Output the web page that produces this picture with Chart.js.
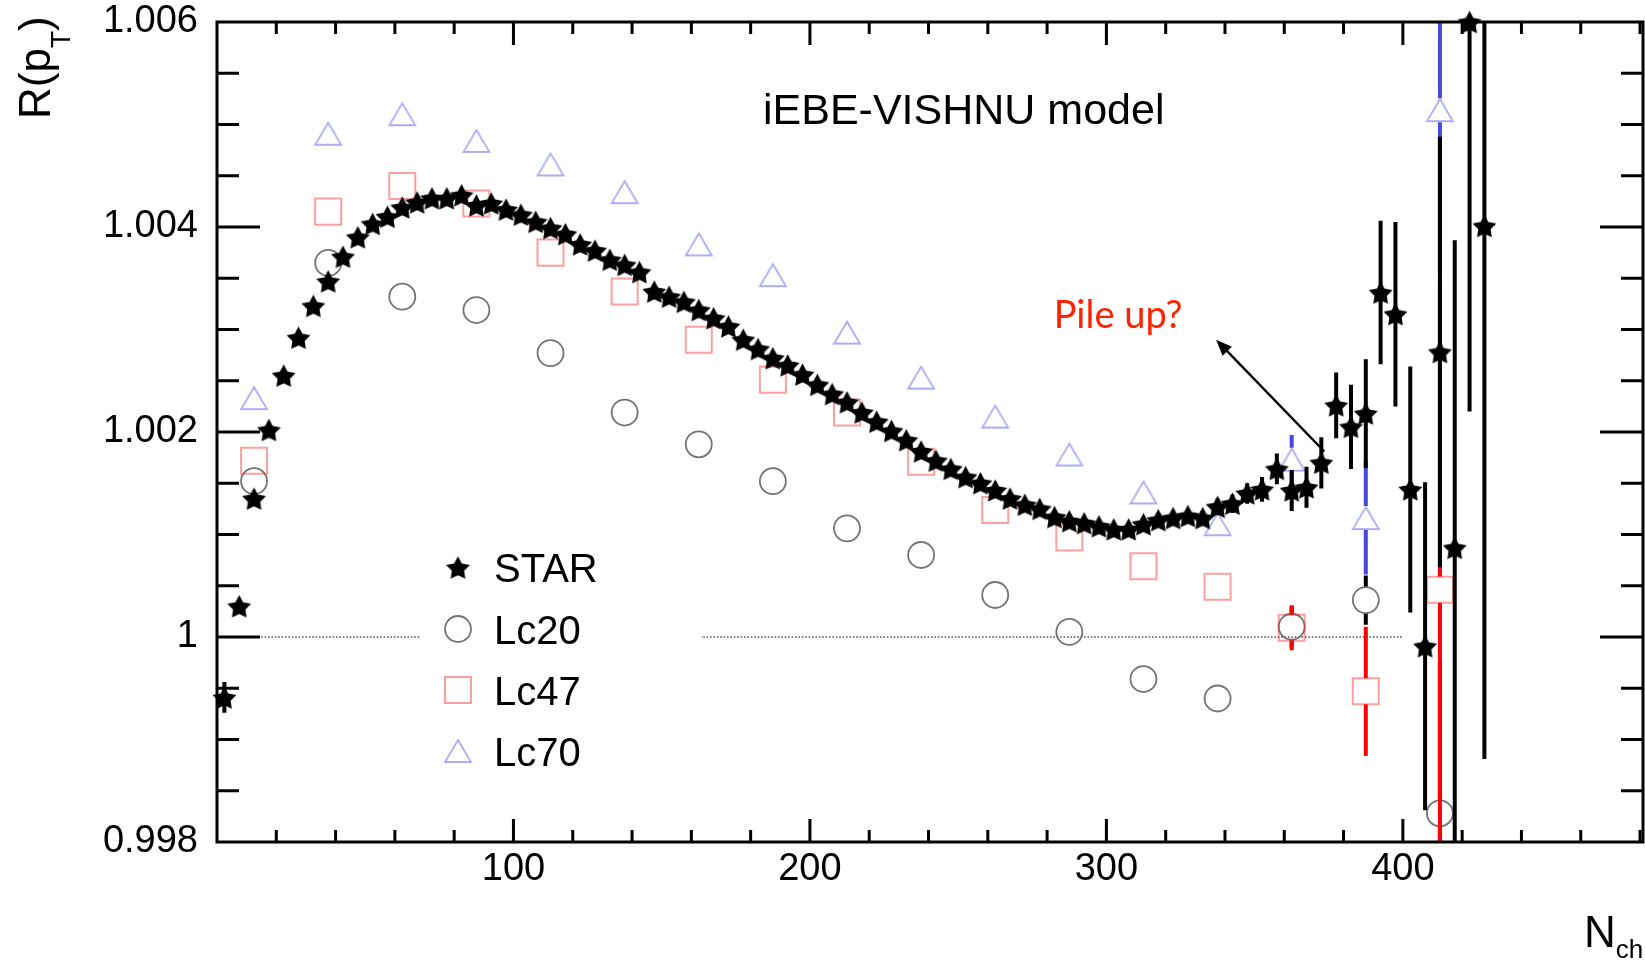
<!DOCTYPE html>
<html>
<head>
<meta charset="utf-8">
<script src="https://cdn.jsdelivr.net/npm/chart.js@4.4.1/dist/chart.umd.min.js"></script>
<style>
  html, body { margin: 0; padding: 0; background: #fff; }
  #wrap { width: 1645px; height: 961px; }
</style>
</head>
<body>
<div id="wrap"><canvas id="c" width="1645" height="961"></canvas></div>
<script>
// ── Data ──────────────────────────────────────────────────────────────────────
const starX = [
  2.5, 7.5, 12.5, 17.5, 22.5, 27.5, 32.5, 37.5, 42.5, 47.5,
  52.5, 57.5, 62.5, 67.5, 72.5, 77.5, 82.5, 87.5, 92.5, 97.5,
  102.5, 107.5, 112.5, 117.5, 122.5, 127.5, 132.5, 137.5, 142.5, 147.5,
  152.5, 157.5, 162.5, 167.5, 172.5, 177.5, 182.5, 187.5, 192.5, 197.5,
  202.5, 207.5, 212.5, 217.5, 222.5, 227.5, 232.5, 237.5, 242.5, 247.5,
  252.5, 257.5, 262.5, 267.5, 272.5, 277.5, 282.5, 287.5, 292.5, 297.5,
  302.5, 307.5, 312.5, 317.5, 322.5, 327.5, 332.5, 337.5, 342.5, 347.5,
  352.5, 357.5, 362.5, 367.5, 372.5, 377.5, 382.5, 387.5, 392.5, 397.5,
  402.5, 407.5, 412.5, 417.5, 422.5, 427.5
];
const starY = [
  0.99941, 1.00030, 1.00135, 1.00202, 1.00255, 1.00292, 1.00323, 1.00347, 1.00371, 1.00390,
  1.00403, 1.00410, 1.00419, 1.00424, 1.00428, 1.00428, 1.00431, 1.00421, 1.00423, 1.00417,
  1.00412, 1.00405, 1.00399, 1.00393, 1.00383, 1.00377, 1.00368, 1.00363, 1.00356, 1.00337,
  1.00332, 1.00327, 1.00319, 1.00311, 1.00303, 1.00290, 1.00281, 1.00272, 1.00265, 1.00256,
  1.00246, 1.00237, 1.00229, 1.00219, 1.00210, 1.00201, 1.00192, 1.00181, 1.00172, 1.00164,
  1.00156, 1.00150, 1.00143, 1.00135, 1.00129, 1.00125, 1.00117, 1.00113, 1.00111, 1.00108,
  1.00105, 1.00105, 1.00110, 1.00114, 1.00116, 1.00118, 1.00116, 1.00127, 1.00130, 1.00140,
  1.00144, 1.00164, 1.00143, 1.00146, 1.00170, 1.00226, 1.00205, 1.00218, 1.00336, 1.00315,
  1.00144, 0.99991, 1.00278, 1.00087, 1.00600, 1.00401
];
const starErr = [
  0.00015, 0.00005, 0.00004, 0.00004, 0.00004, 0.00004, 0.00004, 0.00004, 0.00004, 0.00004,
  0.00004, 0.00004, 0.00004, 0.00004, 0.00004, 0.00004, 0.00004, 0.00004, 0.00004, 0.00004,
  0.00004, 0.00004, 0.00004, 0.00004, 0.00004, 0.00004, 0.00004, 0.00004, 0.00004, 0.00004,
  0.00004, 0.00004, 0.00004, 0.00004, 0.00004, 0.00004, 0.00004, 0.00004, 0.00004, 0.00004,
  0.00004, 0.00004, 0.00004, 0.00004, 0.00004, 0.00004, 0.00004, 0.00004, 0.00004, 0.00004,
  0.00004, 0.00004, 0.00004, 0.00004, 0.00004, 0.00004, 0.00004, 0.00004, 0.00004, 0.00004,
  0.00005, 0.00005, 0.00005, 0.00006, 0.00006, 0.00007, 0.00007, 0.00008, 0.00009, 0.00010,
  0.00012, 0.00015, 0.00020, 0.00020, 0.00025, 0.00032, 0.00041, 0.00053, 0.00070, 0.00090,
  0.00120, 0.00160, 0.00210, 0.00300, 0.00380, 0.00520
];

const modelX = [12.5, 37.5, 62.5, 87.5, 112.5, 137.5, 162.5, 187.5, 212.5,
                237.5, 262.5, 287.5, 312.5, 337.5, 362.5, 387.5, 412.5];
const lc20Y = [1.00152, 1.00365, 1.00332, 1.00319, 1.00277, 1.00219, 1.00188, 1.00152, 1.00106,
               1.00080, 1.00041, 1.00005, 0.99959, 0.99940, 1.00010, 1.00036, 0.99828];
const lc20Err = [0.00003, 0.00003, 0.00003, 0.00003, 0.00003, 0.00003, 0.00003, 0.00003, 0.00003,
                 0.00003, 0.00003, 0.00003, 0.00003, 0.00003, 0.00020, 0.00024, 0.00150];
const lc47Y = [1.00172, 1.00415, 1.00440, 1.00423, 1.00375, 1.00337, 1.00290, 1.00251, 1.00219,
               1.00171, 1.00124, 1.00097, 1.00069, 1.00049, 1.00009, 0.99947, 1.00046];
const lc47Err = [0.00003, 0.00003, 0.00003, 0.00003, 0.00003, 0.00003, 0.00003, 0.00003, 0.00003,
                 0.00003, 0.00003, 0.00003, 0.00003, 0.00003, 0.00022, 0.00063, 0.00300];
const lc70Y = [1.00233, 1.00491, 1.00510, 1.00484, 1.00461, 1.00434, 1.00383, 1.00353, 1.00297,
               1.00253, 1.00215, 1.00178, 1.00141, 1.00110, 1.00173, 1.00116, 1.00514];
const lc70Err = [0.00003, 0.00003, 0.00003, 0.00003, 0.00003, 0.00003, 0.00003, 0.00003, 0.00003,
                 0.00003, 0.00003, 0.00003, 0.00003, 0.00003, 0.00024, 0.00055, 0.00160];

const xMin = 0, xMax = 481;
const yMin = 0.998, yMax = 1.006;
const xMajor = [100, 200, 300, 400];
const yMajor = [0.998, 1, 1.002, 1.004, 1.006];
const unityLine = { value: 1, from: 0, to: 400 };
const pileArrow = { from: [373.5, 1.00181], to: [337, 1.00290] };
const pileText = { text: 'Pile up?', x: 282.2, y: 1.00301 };

// ── Markers (ROOT-like) ──────────────────────────────────────────────────────
const FONT = "'Liberation Sans', Arial, Helvetica, sans-serif";

function starMarker(r) {
  const c = document.createElement('canvas');
  const s = Math.ceil(r * 2 + 2);
  c.width = c.height = s;
  const g = c.getContext('2d');
  g.translate(s / 2, s / 2 + r * 0.1);
  g.beginPath();
  for (let i = 0; i < 10; i++) {
    const rr = i % 2 ? r * 0.52 : r;
    const a = -Math.PI / 2 + i * Math.PI / 5;
    g.lineTo(rr * Math.cos(a), rr * Math.sin(a));
  }
  g.closePath();
  g.fillStyle = '#000';
  g.fill();
  return c;
}

function triMarker(w, h, color, lw) {
  const c = document.createElement('canvas');
  c.width = w + 4; c.height = h + 4;
  const g = c.getContext('2d');
  g.strokeStyle = color; g.lineWidth = lw;
  g.beginPath();
  g.moveTo(c.width / 2, 2);
  g.lineTo(c.width - 2, h + 2);
  g.lineTo(2, h + 2);
  g.closePath();
  g.stroke();
  return c;
}

const starImg = starMarker(12.5);
const triImg = triMarker(26, 22, 'rgba(70,70,235,0.45)', 1.8);

const pts = (xs, ys) => xs.map((x, i) => ({ x, y: ys[i] }));

// ── Plugins ──────────────────────────────────────────────────────────────────
// vertical error bars, drawn just before each dataset's markers, with a gap at the marker
const errorBars = {
  id: 'errorBars',
  beforeDatasetDraw(chart, args) {
    const ds = chart.data.datasets[args.index];
    if (!ds.errors) return;
    const { ctx, chartArea: a, scales: { x, y } } = chart;
    ctx.save();
    ctx.beginPath();
    ctx.rect(a.left, a.top, a.right - a.left, a.bottom - a.top);
    ctx.clip();
    ctx.strokeStyle = ds.barColor;
    ctx.lineWidth = 4;
    ds.data.forEach((p, i) => {
      const e = ds.errors[i];
      const px = x.getPixelForValue(p.x);
      const py = y.getPixelForValue(p.y);
      const top = y.getPixelForValue(p.y + e);
      const bot = y.getPixelForValue(p.y - e);
      const g = ds.barGap;
      ctx.beginPath();
      if (py - g > top) { ctx.moveTo(px, top); ctx.lineTo(px, py - g); }
      if (py + g < bot) { ctx.moveTo(px, py + g); ctx.lineTo(px, bot); }
      ctx.stroke();
    });
    ctx.restore();
  }
};

function legendMarker(ctx, d, cx, cy) {
  const st = d.pointStyle;
  if (typeof st !== 'string') {
    ctx.drawImage(st, cx - st.width / 2, cy - st.height / 2);
    return;
  }
  ctx.strokeStyle = d.pointBorderColor;
  ctx.lineWidth = d.pointBorderWidth;
  ctx.beginPath();
  if (st === 'circle') {
    ctx.arc(cx, cy, d.pointRadius, 0, Math.PI * 2);
  } else {
    const s = d.pointRadius * Math.SQRT1_2;
    ctx.rect(cx - s, cy - s, 2 * s, 2 * s);
  }
  ctx.stroke();
}

const decorations = {
  id: 'decorations',
  beforeDatasetsDraw(chart) {
    const { ctx, scales: { x, y } } = chart;
    const py = y.getPixelForValue(unityLine.value);
    ctx.save();
    ctx.strokeStyle = '#555';
    ctx.lineWidth = 1.6;
    ctx.setLineDash([1.6, 1.8]);
    ctx.beginPath();
    ctx.moveTo(x.getPixelForValue(unityLine.from), py);
    ctx.lineTo(x.getPixelForValue(unityLine.to), py);
    ctx.stroke();
    ctx.restore();
  },
  afterDatasetsDraw(chart) {
    const { ctx, chartArea: a, scales: { x, y } } = chart;
    const ds = chart.data.datasets;

    // legend box
    ctx.save();
    ctx.fillStyle = '#fff';
    ctx.fillRect(421, 526, 280, 262);
    const rowY = [567.5, 629, 690, 751];
    ds.forEach((d, k) => {
      legendMarker(ctx, d, 458, rowY[k]);
      ctx.fillStyle = '#000';
      ctx.font = `40px ${FONT}`;
      ctx.textBaseline = 'alphabetic';
      ctx.fillText(d.label, 494, rowY[k] + 14.5);
    });

    // model label
    ctx.font = `43px ${FONT}`;
    ctx.fillStyle = '#000';
    ctx.fillText('iEBE-VISHNU model', a.left + 546, a.top + 102);

    // pile-up annotation
    const x1 = x.getPixelForValue(pileArrow.from[0]), y1 = y.getPixelForValue(pileArrow.from[1]);
    const x2 = x.getPixelForValue(pileArrow.to[0]), y2 = y.getPixelForValue(pileArrow.to[1]);
    const ang = Math.atan2(y2 - y1, x2 - x1);
    ctx.strokeStyle = '#000';
    ctx.lineWidth = 2.4;
    ctx.beginPath();
    ctx.moveTo(x1, y1);
    ctx.lineTo(x2 - 10 * Math.cos(ang), y2 - 10 * Math.sin(ang));
    ctx.stroke();
    ctx.fillStyle = '#000';
    ctx.beginPath();
    ctx.moveTo(x2, y2);
    ctx.lineTo(x2 - 16 * Math.cos(ang) + 6.5 * Math.sin(ang), y2 - 16 * Math.sin(ang) - 6.5 * Math.cos(ang));
    ctx.lineTo(x2 - 16 * Math.cos(ang) - 6.5 * Math.sin(ang), y2 - 16 * Math.sin(ang) + 6.5 * Math.cos(ang));
    ctx.closePath();
    ctx.fill();

    ctx.fillStyle = '#ff2200';
    ctx.font = "38px Lato, 'Open Sans', sans-serif";
    ctx.fillText(pileText.text, x.getPixelForValue(pileText.x), y.getPixelForValue(pileText.y));
    ctx.restore();
  },
  afterDraw(chart) {
    const { ctx, chartArea: a, scales: { x, y } } = chart;
    ctx.save();
    ctx.strokeStyle = '#000';
    ctx.lineWidth = 3;
    ctx.beginPath();
    // x ticks, inward on bottom and top
    for (let k = 1; xMin + k * 20 < xMax; k++) {
      const v = xMin + k * 20;
      const px = x.getPixelForValue(v);
      const len = v % 100 === 0 ? 23 : 12;
      ctx.moveTo(px, a.bottom); ctx.lineTo(px, a.bottom - len);
      ctx.moveTo(px, a.top); ctx.lineTo(px, a.top + len);
    }
    // y ticks, inward on left and right
    for (let k = 1; k < 16; k++) {
      const v = yMin + k * 0.0005;
      const py = y.getPixelForValue(v);
      const len = k % 4 === 0 ? 43 : 22;
      ctx.moveTo(a.left, py); ctx.lineTo(a.left + len, py);
      ctx.moveTo(a.right, py); ctx.lineTo(a.right - len, py);
    }
    ctx.stroke();
    ctx.strokeRect(a.left, a.top, a.right - a.left, a.bottom - a.top);

    // axis titles
    ctx.fillStyle = '#000';
    ctx.textBaseline = 'alphabetic';
    ctx.font = `44px ${FONT}`;
    ctx.fillText('N', 1584, 947);
    const nW = ctx.measureText('N').width;
    ctx.font = `26px ${FONT}`;
    ctx.fillText('ch', 1584 + nW, 958);

    ctx.translate(50, 119);
    ctx.rotate(-Math.PI / 2);
    ctx.font = `44px ${FONT}`;
    ctx.fillText('R(p', 0, 0);
    let w = ctx.measureText('R(p').width;
    ctx.font = `28px ${FONT}`;
    ctx.fillText('T', w, 20);
    w += ctx.measureText('T').width;
    ctx.font = `44px ${FONT}`;
    ctx.fillText(')', w, 0);
    ctx.restore();
  }
};

// ── Chart ────────────────────────────────────────────────────────────────────
new Chart(document.getElementById('c'), {
  type: 'scatter',
  data: {
    datasets: [
      {
        label: 'STAR', data: pts(starX, starY), errors: starErr,
        barColor: '#000', barGap: 0, order: 0, clip: false,
        pointStyle: starImg, pointRadius: 12, pointBorderWidth: 0,
        pointBorderColor: '#000', pointBackgroundColor: '#000'
      },
      {
        label: 'Lc20', data: pts(modelX, lc20Y), errors: lc20Err,
        barColor: '#000', barGap: 13, order: 3, clip: false,
        pointStyle: 'circle', pointRadius: 13, pointBorderWidth: 1.8,
        pointBorderColor: '#747474', pointBackgroundColor: 'rgba(0,0,0,0)'
      },
      {
        label: 'Lc47', data: pts(modelX, lc47Y), errors: lc47Err,
        barColor: '#ff0000', barGap: 13, order: 2, clip: false,
        pointStyle: 'rect', pointRadius: 18.4, pointBorderWidth: 2,
        pointBorderColor: 'rgba(255,40,40,0.45)', pointBackgroundColor: 'rgba(0,0,0,0)'
      },
      {
        label: 'Lc70', data: pts(modelX, lc70Y), errors: lc70Err,
        barColor: '#4848dc', barGap: 12, order: 1, clip: false,
        pointStyle: triImg, pointRadius: 13, pointBorderWidth: 1.8,
        pointBorderColor: 'rgba(70,70,235,0.45)', pointBackgroundColor: 'rgba(0,0,0,0)'
      }
    ]
  },
  options: {
    responsive: false,
    animation: false,
    devicePixelRatio: 1,
    layout: { autoPadding: false, padding: { top: 22, right: 2, left: 0, bottom: 0 } },
    plugins: { legend: { display: false }, tooltip: { enabled: false } },
    scales: {
      x: {
        type: 'linear', min: xMin, max: xMax,
        grid: { display: false, drawTicks: false },
        border: { display: false },
        ticks: { color: '#000', padding: 9, font: { family: FONT, size: 38, lineHeight: 1 },
                 callback: v => String(v) },
        afterBuildTicks: s => { s.ticks = xMajor.map(v => ({ value: v })); },
        afterFit: s => { s.height = 119; s.paddingLeft = 0; s.paddingRight = 0; }
      },
      y: {
        type: 'linear', min: yMin, max: yMax,
        grid: { display: false, drawTicks: false },
        border: { display: false },
        ticks: { color: '#000', padding: 19, font: { family: FONT, size: 38, lineHeight: 1 },
                 callback: v => String(+v.toFixed(3)) },
        afterBuildTicks: s => { s.ticks = yMajor.map(v => ({ value: v })); },
        afterFit: s => { s.width = 217; s.paddingTop = 0; s.paddingBottom = 0; }
      }
    }
  },
  plugins: [errorBars, decorations]
});
</script>
</body>
</html>
